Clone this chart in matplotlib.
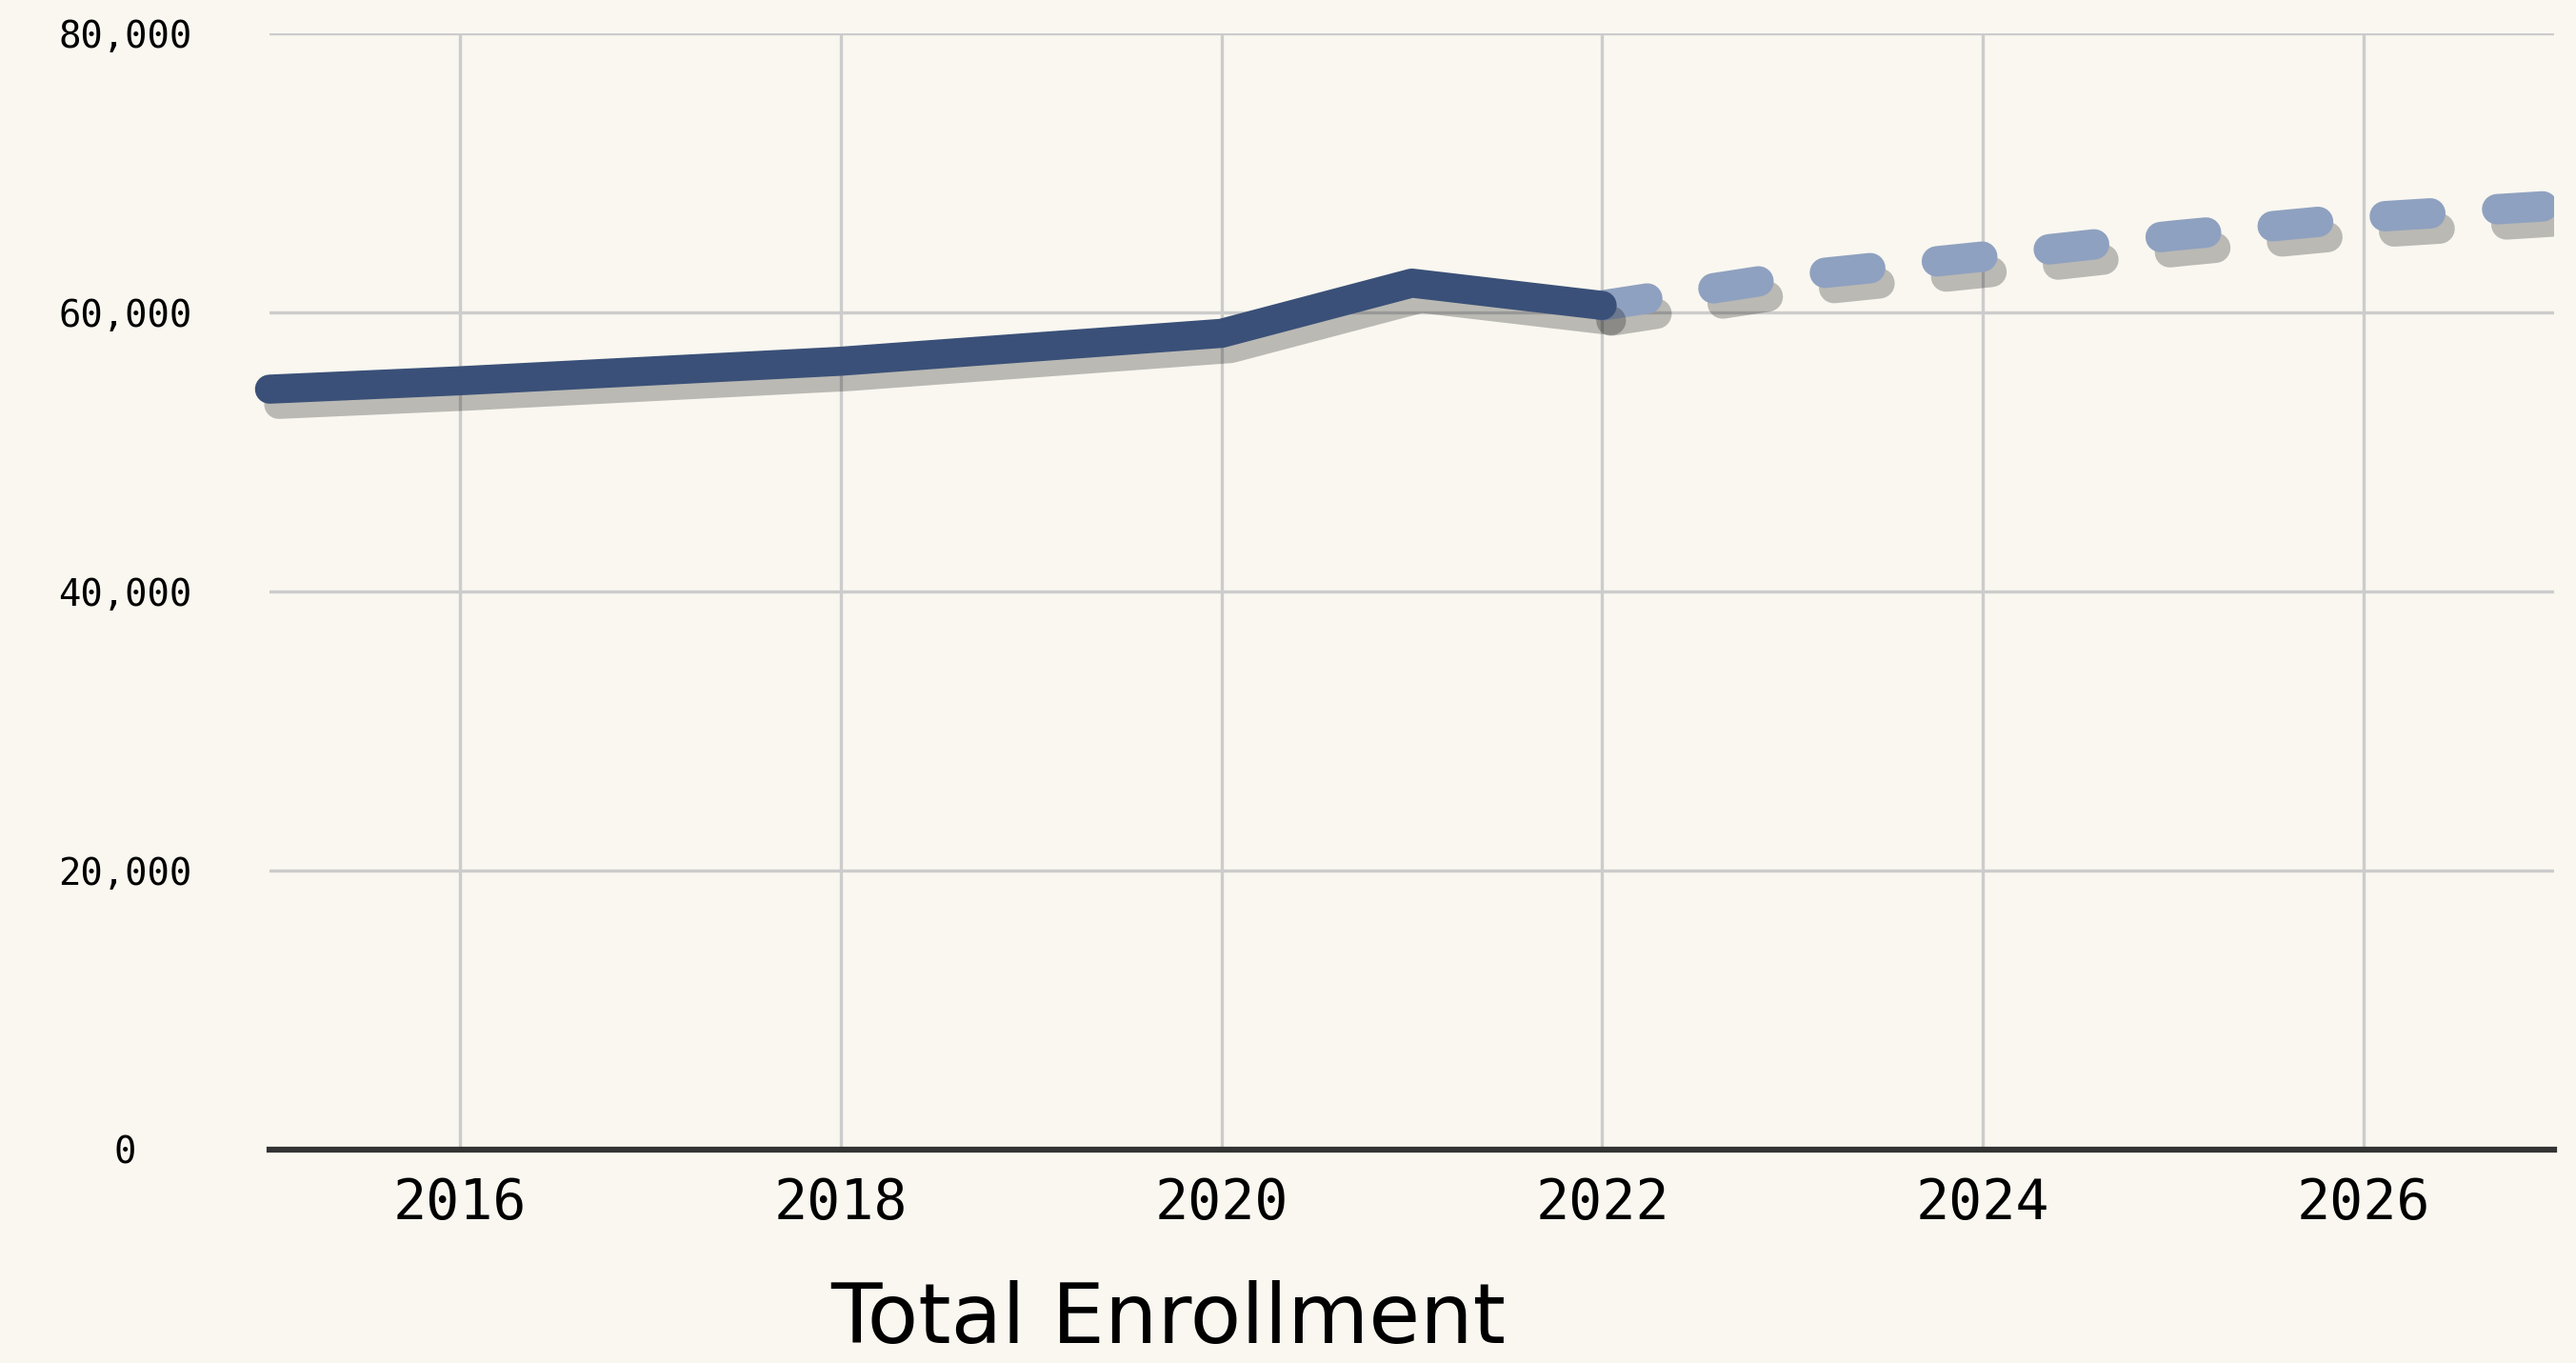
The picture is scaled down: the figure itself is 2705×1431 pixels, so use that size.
import numpy as np
import matplotlib
matplotlib.use("Agg")
import matplotlib.pyplot as plt
import matplotlib.patheffects as pe

# Enrollment values
actual_years = [2015, 2016, 2017, 2018, 2019, 2020, 2021, 2022]
actual_enroll = [54500, 55100, 55800, 56500, 57500, 58500, 62100, 60500]

proj_years = [2022, 2023, 2024, 2025, 2026, 2027]
proj_enroll = [60500, 62600, 64000, 65500, 66800, 67650]

x_ticks = [2016, 2018, 2020, 2022, 2024, 2026]
y_ticks = [0, 20000, 40000, 60000, 80000]
title = "Total Enrollment"

bg = "#f9f7f0"
solid_color = "#3a5078"
proj_color = "#8fa1c0"

fig = plt.figure(figsize=(27.05, 14.31), dpi=100, facecolor=bg)
ax = fig.add_axes([283/2705, 224/1431, (2682-283)/2705, (1207-35)/1431])
ax.set_facecolor(bg)

shadow = [pe.SimpleLineShadow(offset=(7, -11.5), shadow_color="black", alpha=0.25), pe.Normal()]

# Projection (dashed) drawn first so the solid end sits on top
ax.plot(proj_years, proj_enroll, color=proj_color, linewidth=23,
        linestyle=(0, (1.5, 2.2)), dash_capstyle="round",
        path_effects=shadow, zorder=3)
ax.plot(actual_years, actual_enroll, color=solid_color, linewidth=22,
        solid_capstyle="round", solid_joinstyle="round",
        path_effects=shadow, zorder=4, clip_on=False)

ax.set_xlim(2015, 2027)
ax.set_ylim(0, 80000)
ax.set_xticks(x_ticks)
ax.set_yticks(y_ticks)
ax.set_yticklabels([f"{v:,}" for v in y_ticks], ha="center")
for lbl in ax.get_xticklabels() + ax.get_yticklabels():
    lbl.set_family("DejaVu Sans Mono")
for lbl in ax.get_xticklabels():
    lbl.set_fontsize(42)
for lbl in ax.get_yticklabels():
    lbl.set_fontsize(28)

ax.tick_params(axis="both", length=0, colors="black")
ax.tick_params(axis="y", pad=109)
ax.tick_params(axis="x", pad=20)

ax.grid(True, color="#cccccc", linewidth=2.4, zorder=0)
ax.set_axisbelow(True)
for side in ["top", "right", "left"]:
    ax.spines[side].set_visible(False)
ax.spines["bottom"].set_color("#333333")
ax.spines["bottom"].set_linewidth(4.5)
ax.spines["bottom"].set_zorder(2)

fig.text(1227/2705, 3/1431, title, ha="center", va="bottom",
         fontsize=63, family="DejaVu Sans", color="black")

fig.savefig("out.png", dpi=100, facecolor=bg)
